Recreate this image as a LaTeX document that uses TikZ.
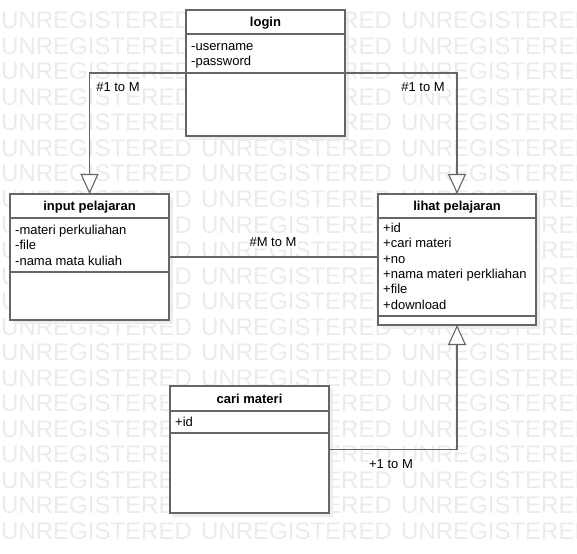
\documentclass[tikz,border=0pt]{standalone}
\usepackage{fontspec}
\setmainfont{Liberation Sans}
\usetikzlibrary{arrows.meta}
\definecolor{linec}{HTML}{666666}
\definecolor{wmark}{HTML}{EBEBEB}
\definecolor{shadowc}{HTML}{EDEDED}
\begin{document}
\begin{tikzpicture}[x=1pt,y=-1pt,
  classbox/.style={draw=linec, line width=1.1pt, fill=white, anchor=north west, inner sep=0pt, outer sep=0pt},
  sepline/.style={draw=linec, line width=1.1pt},
  conn/.style={draw=linec, line width=1.1pt},
  hollow/.style={-{Triangle[open, length=20pt, width=18pt, fill=white]}},
  hdr/.style={anchor=base, inner sep=0pt, font=\fontsize{13}{15.3}\selectfont\bfseries},
  attr/.style={anchor=base west, inner sep=0pt, font=\fontsize{13}{15.3}\selectfont},
  lbl/.style={fill=white, inner sep=1.5pt, font=\fontsize{13}{15.3}\selectfont},
  wm/.style={anchor=base west, inner sep=0pt, text=wmark, font=\fontsize{24}{24}\selectfont}
]
\useasboundingbox (0,0) rectangle (577,553);
\begin{scope}
\clip (0,0) rectangle (577,553);
\foreach \r in {0,...,20}{
  \foreach \c in {0,1,2}{
    \node[wm] (wm\r x\c) at ({1+200*\c},{29+25.5*\r}) {UNREGISTERED};
  }
}
\end{scope}
% shadows
\fill[shadowc] (189,13) rectangle (349,140);
\fill[shadowc] (13,197) rectangle (173,324);
\fill[shadowc] (381,197) rectangle (540,329);
\fill[shadowc] (173,389) rectangle (333,517);
% class boxes
\node[classbox, minimum width=159pt, minimum height=126pt] (login) at (186,10) {};
\node[classbox, minimum width=159pt, minimum height=126pt] (input) at (10,194) {};
\node[classbox, minimum width=158pt, minimum height=131pt] (lihat) at (378,194) {};
\node[classbox, minimum width=159pt, minimum height=127pt] (cari) at (170,386) {};
% separators
\draw[sepline] ([yshift=-24pt]login.north west) -- ([yshift=-24pt]login.north east);
\draw[sepline] ([yshift=-63pt]login.north west) -- ([yshift=-63pt]login.north east);
\draw[sepline] ([yshift=-24pt]input.north west) -- ([yshift=-24pt]input.north east);
\draw[sepline] ([yshift=-78pt]input.north west) -- ([yshift=-78pt]input.north east);
\draw[sepline] ([yshift=-24pt]lihat.north west) -- ([yshift=-24pt]lihat.north east);
\draw[sepline] ([yshift=-122pt]lihat.north west) -- ([yshift=-122pt]lihat.north east);
\draw[sepline] ([yshift=-25pt]cari.north west) -- ([yshift=-25pt]cari.north east);
\draw[sepline] ([yshift=-47pt]cari.north west) -- ([yshift=-47pt]cari.north east);
% headers
\node[hdr] (loginH) at (265.5,27) {login};
\node[hdr] (inputH) at (89.5,211) {input pelajaran};
\node[hdr] (lihatH) at (457,211) {lihat pelajaran};
\node[hdr] (cariH) at (249.5,403) {cari materi};
% attributes
\foreach \t [count=\i] in {-username,-password}
  \node[attr] (loginA\i) at (191,{50.5+15.3*(\i-1)}) {\t};
\foreach \t [count=\i] in {-materi perkuliahan,-file,-nama mata kuliah}
  \node[attr] (inputA\i) at (15,{234.5+15.3*(\i-1)}) {\t};
\foreach \t [count=\i] in {+id,+cari materi,+no,+nama materi perkliahan,+file,+download}
  \node[attr] (lihatA\i) at (383,{232.5+15.3*(\i-1)}) {\t};
\node[attr] (cariA1) at (175,426.5) {+id};
% connectors
\draw[conn, hollow] (login.west) -| (input.north);
\draw[conn, hollow] (login.east) -| (lihat.north);
\draw[conn] (input.east) -- (input.east -| lihat.west);
\draw[conn, hollow] (cari.east) -| (lihat.south);
% labels
\node[lbl] (l1) at (118,87) {\#1 to M};
\node[lbl] (l2) at (423,87) {\#1 to M};
\node[lbl] (l3) at (273,242) {\#M to M};
\node[lbl] (l4) at (391,464) {+1 to M};
\end{tikzpicture}
\end{document}
